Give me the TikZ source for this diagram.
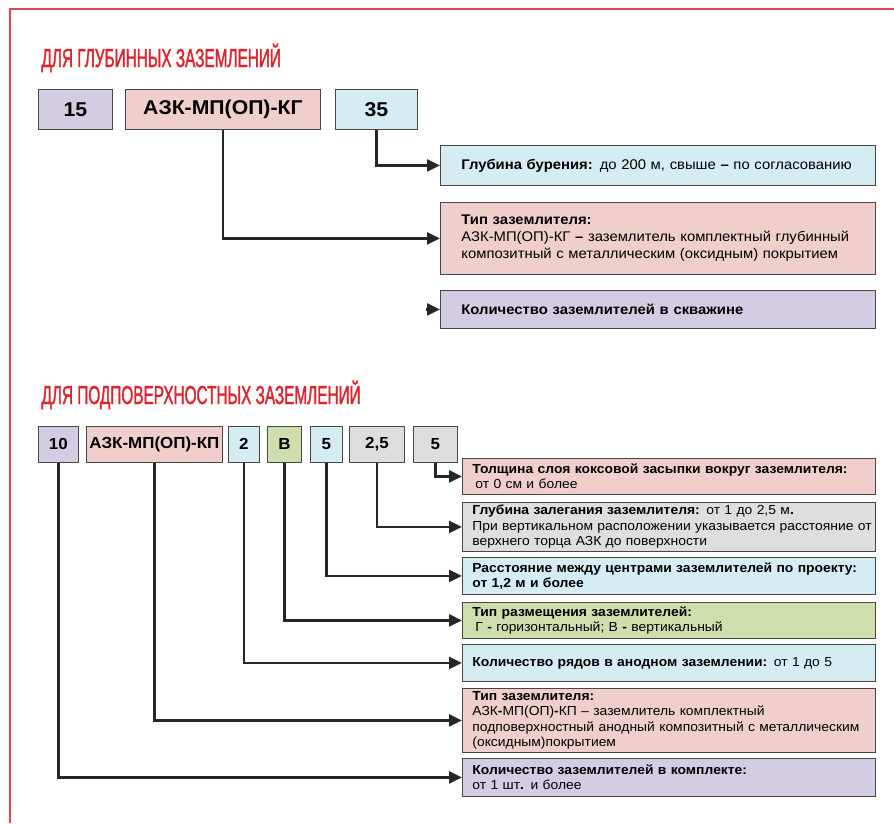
\documentclass[tikz,border=0pt]{standalone}
\usepackage{fontspec}
\setmainfont[FakeStretch=1.06]{Liberation Sans}
\newfontfamily\titlefont[FakeStretch=0.59,FakeBold=1.3]{Liberation Sans}
\usetikzlibrary{arrows.meta}

\definecolor{lilac}{RGB}{212,204,226}
\definecolor{rose}{RGB}{240,206,203}
\definecolor{sky}{RGB}{212,236,242}
\definecolor{moss}{RGB}{206,222,172}
\definecolor{ash}{RGB}{222,222,222}
\definecolor{redtitle}{RGB}{221,35,45}
\definecolor{redframe}{RGB}{224,70,80}
\definecolor{edge}{RGB}{70,70,70}

\begin{document}
\begin{tikzpicture}
  [
    x=1pt, y=-1pt,
    >={Triangle[length=13pt,width=12pt]},
    code/.style   = {draw=edge, line width=0.8pt, anchor=north west, minimum height=#1,
                     inner sep=0pt, font=\bfseries\fontsize{20}{22}\selectfont},
    code/.default = 40pt,
    scode/.style  = {code=36pt, font=\bfseries\fontsize{16}{18}\selectfont},
    info/.style   = {draw=edge, line width=0.8pt, anchor=north west, minimum height=#1,
                     text width=393pt, inner xsep=21pt, inner ysep=0pt, align=left,
                     font=\fontsize{14}{17}\selectfont},
    sinfo/.style  = {info=#1, text width=393pt, inner xsep=10pt,
                     font=\fontsize{13.1}{15.5}\selectfont},
    conn/.style   = {draw=black!85, line width=2.6pt, ->},
    head/.style   = {anchor=base west, text=redtitle, font=\titlefont\fontsize{26}{28}\selectfont},
  ]

  \useasboundingbox (0,0) rectangle (894,823);
  \draw[redframe, line width=1.5pt] (10,823) -- (10,9) -- (894,9);

  % deep earthing
  \node[head] (deep) at (38,67) {ДЛЯ ГЛУБИННЫХ ЗАЗЕМЛЕНИЙ};
  \node[code, fill=lilac, minimum width=74pt]  (dqty)  at (38,89)  {15};
  \node[code, fill=rose,  minimum width=195pt] (dtype) at (125,89) {АЗК-МП(ОП)-КГ};
  \node[code, fill=sky,   minimum width=82pt]  (ddep)  at (335,89) {35};

  \node[info=40pt, fill=sky]   (depth) at (440,145)
    {\textbf{Глубина бурения:} до 200 м, свыше \textbf{–} по согласованию};
  \node[info=72pt, fill=rose]  (kind)  at (440,202)
    {\textbf{Тип заземлителя:}\\ АЗК-МП(ОП)-КГ \textbf{–} заземлитель комплектный глубинный\\ композитный с металлическим (оксидным) покрытием};
  \node[info=38pt, fill=lilac] (count) at (440,290)
    {\textbf{Количество заземлителей в скважине}};
  \coordinate (countfree) at ([xshift=-14pt]count.west);

  \draw[conn] (ddep.south)  |- (depth.west);
  \draw[conn] (dtype.south) |- (kind.west);
  \draw[conn] (countfree) -- (count.west);

  % subsurface earthing
  \node[head] (surf) at (38,404) {ДЛЯ ПОДПОВЕРХНОСТНЫХ ЗАЗЕМЛЕНИЙ};
  \node[scode, fill=lilac, minimum width=40pt]  (sqty)   at (38,426)  {10};
  \node[scode, fill=rose,  minimum width=136pt] (stype)  at (86,426)  {АЗК-МП(ОП)-КП};
  \node[scode, fill=sky,   minimum width=31pt]  (srows)  at (228,426) {2};
  \node[scode, fill=moss,  minimum width=34pt]  (splace) at (267,426) {В};
  \node[scode, fill=sky,   minimum width=32pt]  (sdist)  at (310,426) {5};
  \node[scode, fill=ash,   minimum width=55pt]  (sbury)  at (349,426) {2,5};
  \node[scode, fill=ash,   minimum width=44pt]  (scoke)  at (413,426) {5};

  \node[sinfo=36pt, fill=rose]  (coke)  at (462,458)
    {\mbox{\textbf{Толщина слоя коксовой засыпки вокруг заземлителя:}}\\ \hspace{3pt}от 0 см и более};
  \node[sinfo=49pt, fill=ash]   (bury)  at (462,502)
    {\textbf{Глубина залегания заземлителя:} от 1 до 2,5 м\textbf{.}\\ \mbox{При вертикальном расположении указывается расстояние от}\\ верхнего торца АЗК до поверхности};
  \node[sinfo=37pt, fill=sky]   (dist)  at (462,557)
    {\mbox{\textbf{Расстояние между центрами заземлителей по проекту:}}\\ \textbf{от 1,2 м и более}};
  \node[sinfo=36pt, fill=moss]  (place) at (462,602)
    {\textbf{Тип размещения заземлителей:}\\ \hspace{3pt}Г \textbf{-} горизонтальный; В \textbf{-} вертикальный};
  \node[sinfo=37pt, fill=sky]   (rows)  at (462,644)
    {\textbf{Количество рядов в анодном заземлении:} от 1 до 5};
  \node[sinfo=64pt, fill=rose]  (skind) at (462,688)
    {\textbf{Тип заземлителя:}\\ АЗК\textbf{-}МП(ОП)\textbf{-}КП – заземлитель комплектный\\ \mbox{подповерхностный анодный композитный с металлическим}\\ (оксидным)покрытием};
  \node[sinfo=38pt, fill=lilac] (scount) at (462,758)
    {\textbf{Количество заземлителей в комплекте:}\\ от 1 шт\textbf{.} и более};

  \draw[conn] (scoke.south)  |- (coke.west);
  \draw[conn] (sbury.south)  |- (bury.west);
  \draw[conn] (sdist.south)  |- (dist.west);
  \draw[conn] (splace.south) |- (place.west);
  \draw[conn] (srows.south)  |- (rows.west);
  \draw[conn] (stype.south)  |- (skind.west);
  \draw[conn] (sqty.south)   |- (scount.west);

\end{tikzpicture}
\end{document}
